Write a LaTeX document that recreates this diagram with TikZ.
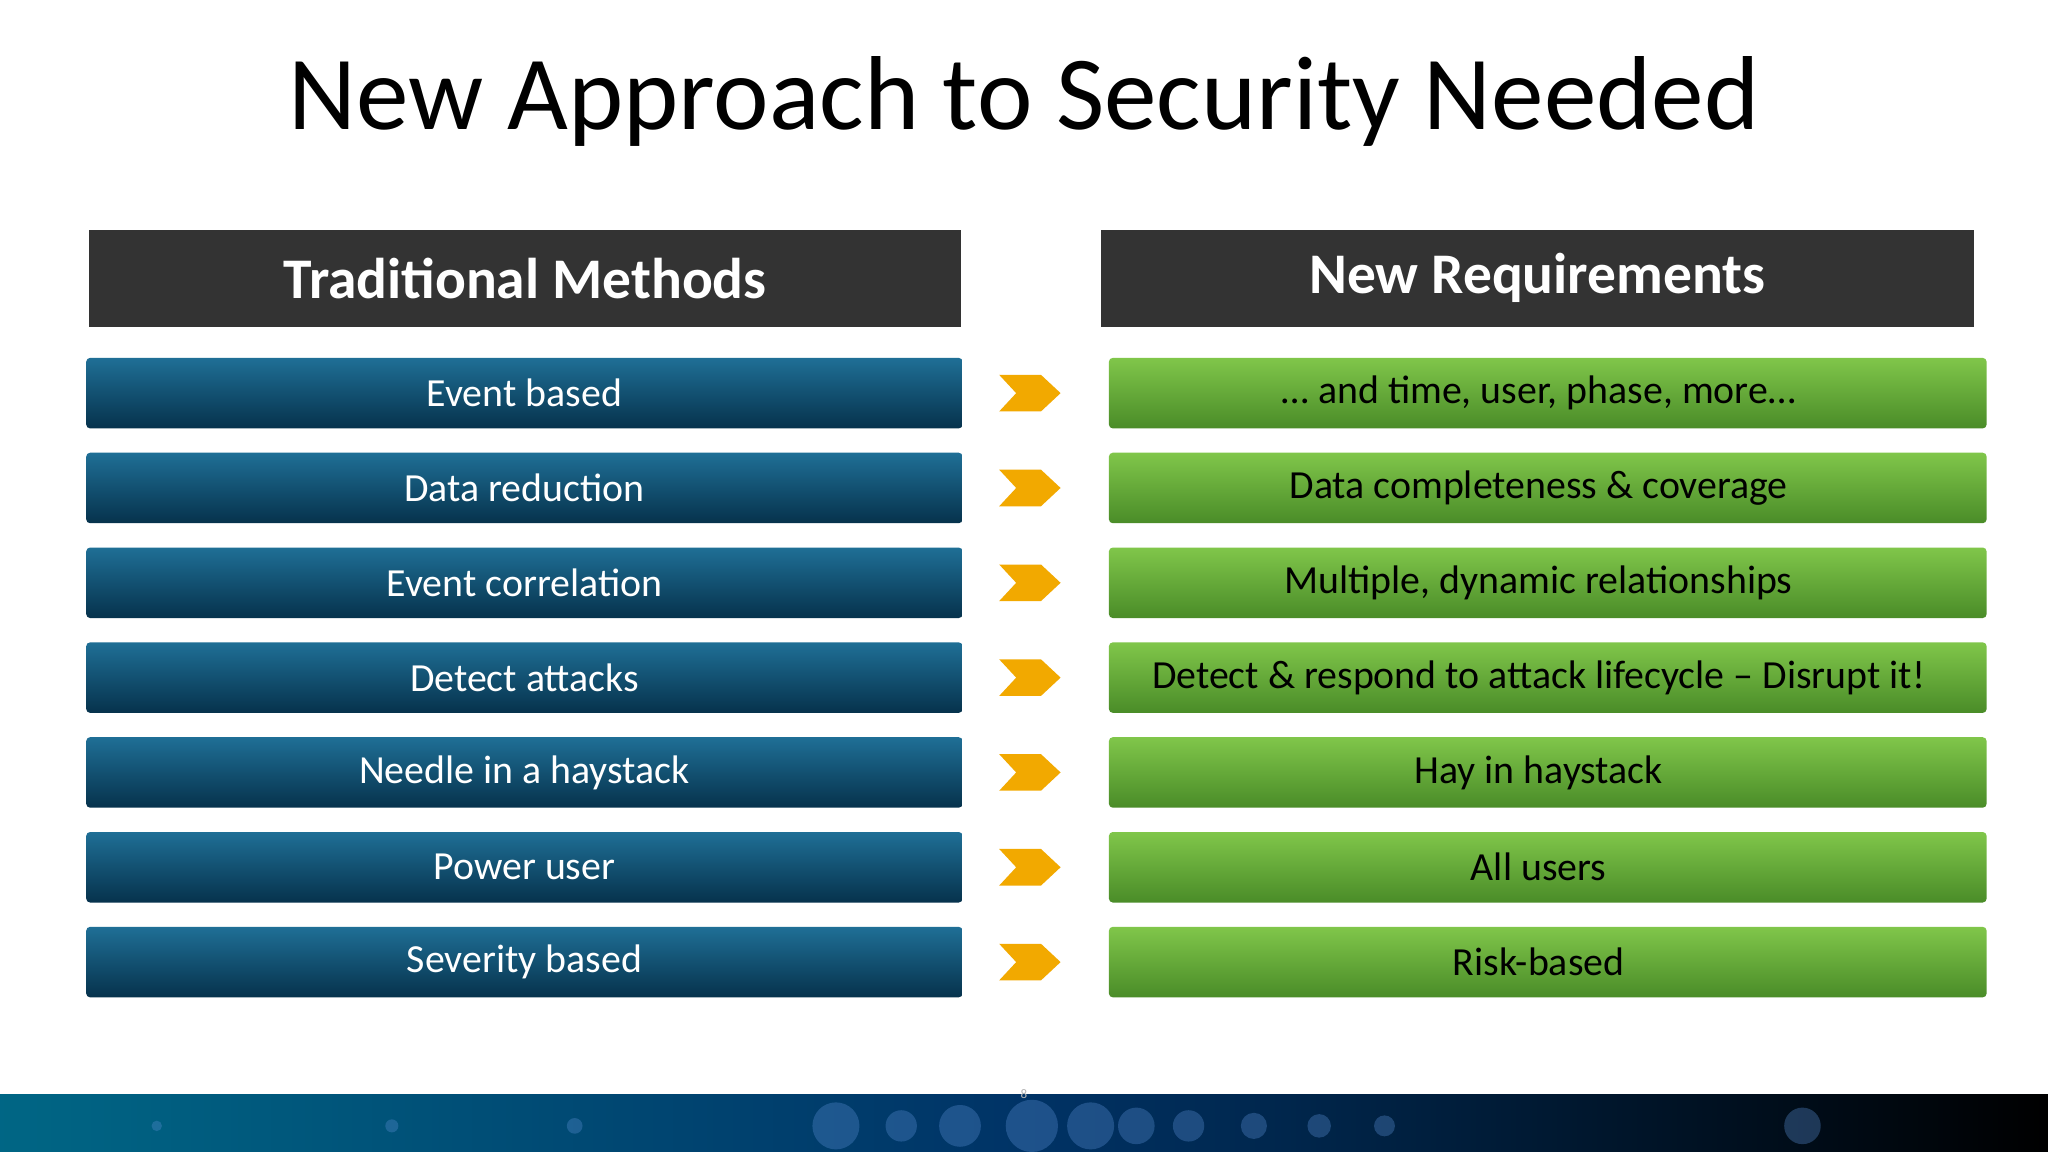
\documentclass[tikz,border=0pt]{standalone}
\usepackage{fontspec}
\setmainfont{Carlito}
\begin{document}
\begin{tikzpicture}[x=1pt,y=-1pt,
  hdr/.style={fill=black!80,text=white,font=\fontsize{44}{48}\selectfont\bfseries,minimum width=668pt,minimum height=74pt,inner sep=0pt},
  bluebox/.style={rounded corners=3pt,top color=btop,bottom color=bbot,text=white,font=\fontsize{30.5}{34}\selectfont,minimum width=671pt,minimum height=54pt,inner sep=0pt},
  greenbox/.style={rounded corners=3pt,top color=gtop,bottom color=gbot,text=black,font=\fontsize{30.5}{34}\selectfont,minimum width=672pt,minimum height=54pt,inner sep=0pt}]
\definecolor{chev}{HTML}{F2A900}
\definecolor{btop}{HTML}{1F6F96}
\definecolor{bbot}{HTML}{06324C}
\definecolor{gtop}{HTML}{80C64A}
\definecolor{gbot}{HTML}{4A8C28}
\useasboundingbox (0,0) rectangle (1568,882);
\fill[white] (0,0) rectangle (1568,882);
\node (title) at (784,78) {\fontsize{80.5}{90}\selectfont New Approach to Security Needed};
\node[hdr] (hl) at (402,213) {Traditional Methods};
\node[hdr] (hr) at (1177,213) {New Requirements};
\foreach \i/\a/\b in {0/Event based/{\dots\ and time, user, phase, more\dots},
  1/Data reduction/Data completeness \& coverage,
  2/Event correlation/{Multiple, dynamic relationships},
  3/Detect attacks/Detect \& respond to attack lifecycle -- Disrupt it!,
  4/Needle in a haystack/Hay in haystack,
  5/Power user/All users,
  6/Severity based/Risk-based}{
  \pgfmathsetmacro\yy{301+72.6*\i}
  \node[bluebox] (l\i) at (401.5,\yy) {\a};
  \node[greenbox] (r\i) at (1185,\yy) {\b\hspace*{14pt}};
  \fill[chev] (765,\yy-14) -- (797,\yy-14) -- (812,\yy) -- (797,\yy+14) -- (765,\yy+14) -- (778,\yy) -- cycle;
}
\shade[left color=black!80!blue!60!cyan, right color=black, middle color=blue!50!cyan!40!black] (0,838) rectangle (1568,882);
\foreach \x/\r in {640/18,690/12,735/16,790/20,835/18,870/14,910/12,960/10,1010/9,1060/8,440/6,300/5,120/4,1380/14}
  \fill[cyan!50!blue!70!white,opacity=0.35] (\x,862) circle (\r);
\node[text=black!30,font=\fontsize{10}{12}\selectfont] (pg) at (784,838) {8};
\end{tikzpicture}
\end{document}
